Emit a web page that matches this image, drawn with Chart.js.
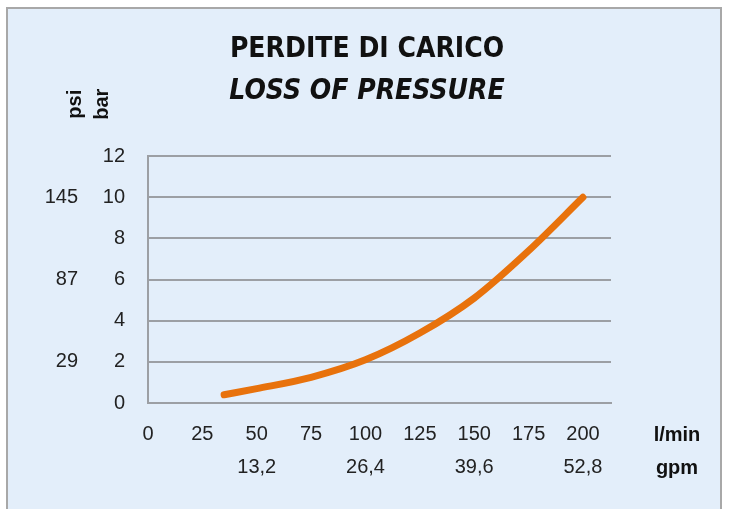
<!DOCTYPE html>
<html lang="it">
<head>
<meta charset="UTF-8">
<title>Perdite di carico</title>
<script src="https://cdn.jsdelivr.net/npm/chart.js"></script>
<style>
    body { margin: 0; padding: 0; background: #fff; }
    #wrap { position: absolute; left: 0; top: 0; width: 734px; height: 509px; }
</style>
</head>
<body>
<div id="wrap"><canvas id="graph" width="734" height="509"></canvas></div>
<script>
    // portata (l/min) e perdita (bar)
    const flowLpm = [35, 50, 75, 100, 125, 150, 175, 200];
    const lossBar = [0.4, 0.7, 1.25, 2.1, 3.4, 5.1, 7.4, 10];

    // etichette asse x
    const flowTicks = [0, 25, 50, 75, 100, 125, 150, 175, 200];
    const gpmAt = [50, 100, 150, 200];
    const gpmLabels = ['13,2', '26,4', '39,6', '52,8'];

    // etichette psi sull'asse y
    const psiAt = [2, 6, 10];
    const psiLabels = ['29', '87', '145'];

    const tickFont = { family: 'Liberation Sans, Arial, sans-serif', size: 20 };
    const gridColor = '#9c9fa4';
    const titleFamily = 'Liberation Sans Narrow, DejaVu Sans Condensed, sans-serif';

    const frame = {
        id: 'frame',
        beforeDraw(chart) {
            const c = chart.ctx;
            c.save();
            c.fillStyle = '#e3eefa';
            c.fillRect(7, 8, 714, 520);
            c.strokeStyle = '#a8a8a8';
            c.lineWidth = 2;
            c.strokeRect(7, 8, 714, 520);
            c.restore();
        },
        afterDraw(chart) {
            const a = chart.chartArea;
            const c = chart.ctx;
            c.save();
            c.fillStyle = '#111';
            c.font = 'bold 20px Liberation Sans, Arial, sans-serif';
            c.textAlign = 'center';
            c.textBaseline = 'middle';
            c.fillText('l/min', a.right + 66, a.bottom + 32);
            c.fillText('gpm', a.right + 66, a.bottom + 65);
            // titoli unita' ruotati
            [['psi', a.left - 73], ['bar', a.left - 46]].forEach(([t, x]) => {
                c.save();
                c.translate(x, a.top - 52);
                c.rotate(-Math.PI / 2);
                c.fillText(t, 0, 0);
                c.restore();
            });
            c.restore();
        }
    };

    new Chart(document.getElementById('graph'), {
        type: 'line',
        data: {
            datasets: [{
                data: flowLpm.map((x, i) => ({ x: x, y: lossBar[i] })),
                borderColor: '#e8720c',
                borderWidth: 7,
                borderCapStyle: 'round',
                pointRadius: 0,
                fill: false,
                cubicInterpolationMode: 'monotone'
            }]
        },
        options: {
            responsive: false,
            animation: false,
            layout: { padding: 0 },
            plugins: {
                legend: { display: false },
                tooltip: { enabled: false },
                title: {
                    display: true,
                    text: 'PERDITE DI CARICO',
                    color: '#111',
                    font: { family: titleFamily, size: 28, weight: 'bold', lineHeight: 1.2 },
                    padding: { top: 33, bottom: 0 }
                },
                subtitle: {
                    display: true,
                    text: 'LOSS OF PRESSURE',
                    color: '#111',
                    font: { family: titleFamily, size: 28, weight: 'bold', style: 'italic', lineHeight: 1.2 },
                    padding: { top: 8, bottom: 48 }
                }
            },
            scales: {
                x: {
                    type: 'linear',
                    min: 0,
                    max: 212.9,
                    afterBuildTicks: s => { s.ticks = flowTicks.map(v => ({ value: v })); },
                    afterFit: s => { s.height = 106; },
                    grid: { display: false, drawTicks: false },
                    border: { display: true, color: gridColor, width: 2 },
                    ticks: {
                        color: '#222',
                        padding: 15,
                        maxRotation: 0,
                        font: Object.assign({}, tickFont, { lineHeight: 1.65 }),
                        callback: v => {
                            const k = gpmAt.indexOf(v);
                            return k >= 0 ? [String(v), gpmLabels[k]] : String(v);
                        }
                    }
                },
                y: {
                    position: 'left',
                    weight: 0,
                    min: 0,
                    max: 12,
                    afterFit: s => { s.width = 60; },
                    grid: { color: gridColor, lineWidth: 2, drawTicks: false },
                    border: { display: true, color: gridColor, width: 2 },
                    ticks: { stepSize: 2, color: '#222', padding: 23, font: tickFont }
                },
                psi: {
                    position: 'left',
                    weight: 10,
                    min: 0,
                    max: 12,
                    afterFit: s => { s.width = 88; },
                    afterBuildTicks: s => { s.ticks = psiAt.map(v => ({ value: v })); },
                    grid: { display: false, drawTicks: false },
                    border: { display: false },
                    ticks: {
                        color: '#222',
                        padding: 10,
                        font: tickFont,
                        callback: v => psiLabels[psiAt.indexOf(v)]
                    }
                },
                // spazio a destra per le unita' l/min e gpm
                side: {
                    position: 'right',
                    min: 0,
                    max: 12,
                    afterFit: s => { s.width = 123; },
                    grid: { display: false, drawTicks: false },
                    border: { display: false },
                    ticks: { display: false }
                }
            }
        },
        plugins: [frame]
    });
</script>
</body>
</html>
